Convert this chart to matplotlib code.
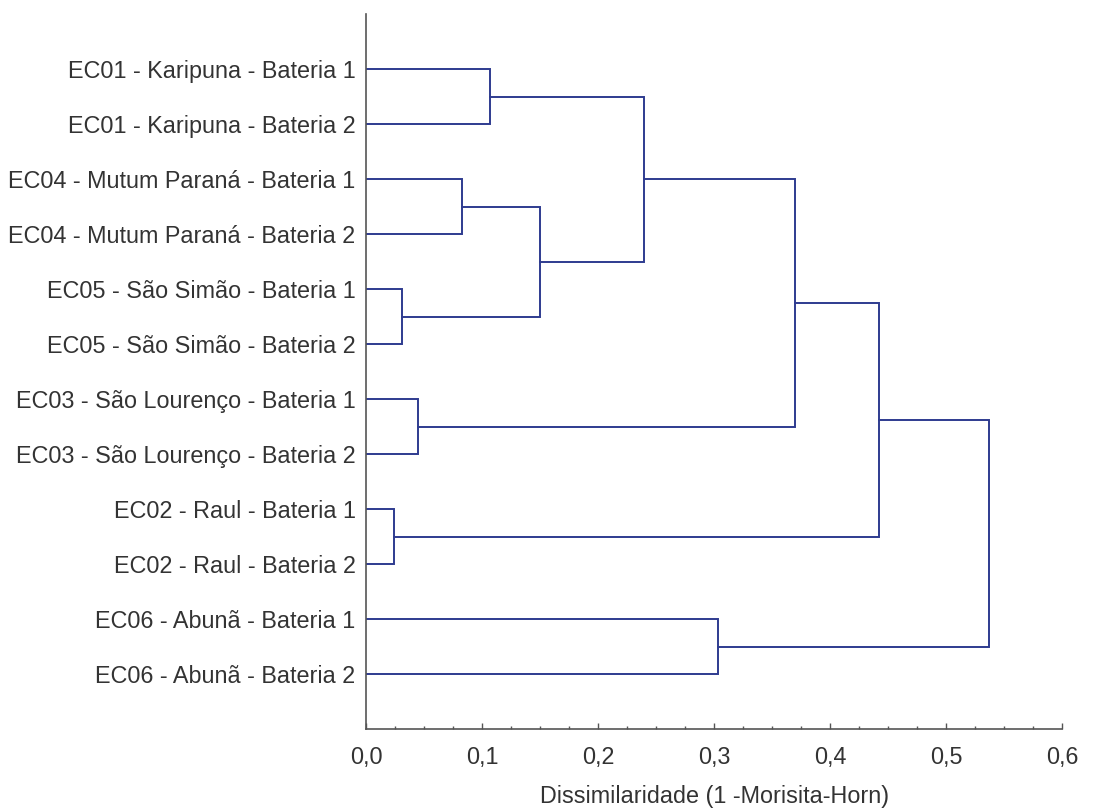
import numpy as np
import matplotlib.pyplot as plt
from matplotlib.ticker import MultipleLocator, FuncFormatter

plt.rcParams['font.family'] = ['Liberation Sans', 'DejaVu Sans']

# leaves, top to bottom
labels = [
    'EC01 - Karipuna - Bateria 1',
    'EC01 - Karipuna - Bateria 2',
    'EC04 - Mutum Paraná - Bateria 1',
    'EC04 - Mutum Paraná - Bateria 2',
    'EC05 - São Simão - Bateria 1',
    'EC05 - São Simão - Bateria 2',
    'EC03 - São Lourenço - Bateria 1',
    'EC03 - São Lourenço - Bateria 2',
    'EC02 - Raul - Bateria 1',
    'EC02 - Raul - Bateria 2',
    'EC06 - Abunã - Bateria 1',
    'EC06 - Abunã - Bateria 2',
]

# clusters: (left node, right node); new node ids start after the leaves
merge_left = [0, 2, 4, 13, 12, 6, 16, 8, 18, 10, 20]
merge_right = [1, 3, 5, 14, 15, 7, 17, 9, 19, 11, 21]
merge_height = [0.107, 0.083, 0.031, 0.150, 0.240, 0.045, 0.370, 0.024, 0.442, 0.303, 0.537]

line_color = '#2e3b8f'
text_color = '#333333'
fs = 16.8

fig = plt.figure(figsize=(11.18, 8.11), dpi=100)
ax = fig.add_axes([0.3274, 0.1011, 0.6226, 0.8816])

n = len(labels)
pos = {i: i + 1 for i in range(n)}
hgt = {i: 0.0 for i in range(n)}
for k, (a, b, h) in enumerate(zip(merge_left, merge_right, merge_height)):
    ya, yb = pos[a], pos[b]
    ax.plot([hgt[a], h, h, hgt[b]], [ya, ya, yb, yb], color=line_color, lw=1.4,
            solid_joinstyle='miter')
    node = n + k
    pos[node] = (ya + yb) / 2
    hgt[node] = h

ax.set_xlim(0, 0.6)
ax.set_ylim(13, 0)
ax.set_yticks(np.arange(1, n + 1))
ax.set_yticklabels(labels, fontsize=fs, color=text_color)
ax.tick_params(axis='y', length=0, pad=7.5)

ax.xaxis.set_major_locator(MultipleLocator(0.1))
ax.xaxis.set_minor_locator(MultipleLocator(0.025))
ax.xaxis.set_major_formatter(FuncFormatter(lambda v, p: f'{v:.1f}'.replace('.', ',')))
ax.tick_params(axis='x', which='major', direction='in', length=4, width=1,
               color='#555555', labelsize=fs, labelcolor=text_color, pad=12.5)
ax.tick_params(axis='x', which='minor', direction='in', length=2.5, width=1,
               color='#555555')
ax.set_xlabel('Dissimilaridade (1 -Morisita-Horn)', fontsize=fs, color=text_color,
              labelpad=11)

for side in ('top', 'right'):
    ax.spines[side].set_visible(False)
for side in ('left', 'bottom'):
    ax.spines[side].set_color('#555555')
    ax.spines[side].set_linewidth(1.2)

fig.savefig('out.png', dpi=100)
